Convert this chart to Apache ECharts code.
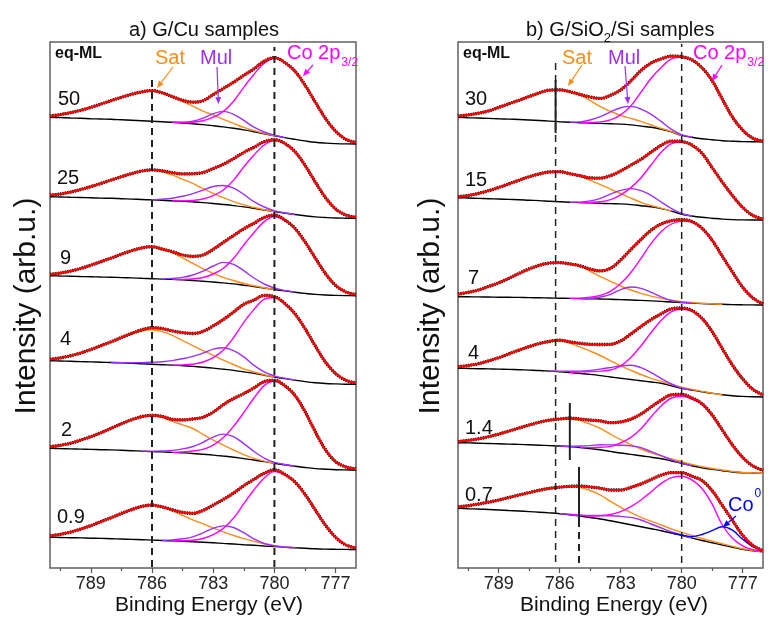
<!DOCTYPE html>
<html>
<head>
<meta charset="utf-8">
<script src="https://cdn.jsdelivr.net/npm/echarts@6/dist/echarts.min.js"></script>
<style>
  html, body { margin: 0; padding: 0; background: #fff; }
  #chart { width: 775px; height: 624px; }
</style>
</head>
<body>
<div id="chart"></div>
<script>
// binding energy grid (eV), 0.5 eV step
const energy = [791, 790.5, 790, 789.5, 789, 788.5, 788, 787.5, 787, 786.5, 786, 785.5, 785, 784.5, 784, 783.5,
  783, 782.5, 782, 781.5, 781, 780.5, 780, 779.5, 779, 778.5, 778, 777.5, 777, 776.5, 776];
const majorTicks = [777, 780, 783, 786, 789];
const minorTicks = [778.5, 781.5, 784.5, 787.5, 790.5];

// ---- a) G/Cu : background (above offset) and component heights (above background)
const cuLabels = ['50', '25', '9', '4', '2', '0.9'];
const cuOffsets = [424, 349.7, 272.3, 183.7, 98, 18.5];

const bgCu50 = [26.7, 26.4, 26.0, 25.7, 25.3, 25.0, 24.7, 24.2, 23.7, 23.2, 22.7, 22.2, 21.7, 21.0, 20.3, 19.4, 18.3, 17.1, 15.7, 14.1, 12.3, 10.3, 8.3, 6.4, 4.7, 3.1, 1.7, 0.9, 0.4, 0.1, 0];
const satCu50 = [1.3, 3, 5.3, 8, 11.3, 15, 18.7, 22.5, 26, 29, 30.7, 29, 25.7, 21.5, 17.5, 13.5, 10.7, 7.5, 5, 2.5, 1, 0.3, 0, 0, 0, 0, 0, 0, 0, 0, 0];
const mulCu50 = [0, 0, 0, 0, 0, 0, 0, 0, 0, 0, 0, 0, 0, 0.7, 2.5, 6.5, 12, 15.5, 14, 9.5, 4.5, 1.7, 0.5, 0, 0, 0, 0, 0, 0, 0, 0];
const coCu50 = [0, 0, 0, 0, 0, 0, 0, 0, 0, 0, 0, 0, 0, 0.5, 1.5, 3.9, 8.5, 15.5, 27.1, 42.6, 57.4, 70.5, 77.5, 75.2, 68.2, 55.8, 40.3, 24.8, 12.4, 4.7, 1.5];

const bgCu25 = [21.6, 21.3, 21.0, 20.8, 20.5, 20.2, 20.0, 19.6, 19.2, 18.8, 18.4, 18.0, 17.6, 17.0, 16.4, 15.7, 14.8, 13.8, 12.7, 11.4, 9.9, 8.3, 6.7, 5.2, 3.8, 2.5, 1.4, 0.8, 0.3, 0.1, 0];
const satCu25 = [1.5, 3, 5.2, 8, 11.2, 14.7, 18.3, 22, 25.5, 28.5, 30, 28.5, 25.5, 22, 18.5, 14, 10.2, 6.8, 4, 2, 1, 0.3, 0, 0, 0, 0, 0, 0, 0, 0, 0];
const mulCu25 = [0, 0, 0, 0, 0, 0, 0, 0, 0, 0, 0, 1, 2.5, 5, 8.3, 12.5, 17, 19, 17.5, 12.5, 6.7, 3, 1, 0.3, 0, 0, 0, 0, 0, 0, 0];
const coCu25 = [0, 0, 0, 0, 0, 0, 0, 0, 0, 0, 0, 0, 0, 0.4, 1.4, 3.6, 7.8, 14.5, 25.5, 40, 53.5, 65, 71, 69.5, 63, 50.5, 35, 20, 9, 3.3, 1];

const bgCu9 = [20, 19.7, 19.5, 19.2, 19.0, 18.7, 18.5, 18.1, 17.8, 17.4, 17.0, 16.6, 16.3, 15.8, 15.2, 14.5, 13.7, 12.8, 11.8, 10.5, 9.2, 7.7, 6.2, 4.8, 3.5, 2.3, 1.3, 0.7, 0.3, 0.1, 0];
const satCu9 = [1.3, 2.9, 5.1, 8, 11.5, 15.4, 19.2, 23.4, 27.2, 30.4, 32, 30, 26.7, 22, 17.2, 12.5, 8.7, 5.5, 3.3, 1.7, 0.7, 0.2, 0, 0, 0, 0, 0, 0, 0, 0, 0];
const mulCu9 = [0, 0, 0, 0, 0, 0, 0, 0, 0, 0, 0, 0, 1, 2.5, 5.5, 10, 16, 20.5, 19.5, 14.5, 8.5, 4, 1.5, 0.5, 0, 0, 0, 0, 0, 0, 0];
const coCu9 = [0, 0, 0, 0, 0, 0, 0, 0, 0, 0, 0, 0, 0, 0.4, 1.5, 3.7, 8, 14.6, 25.6, 40.2, 54, 66.4, 73, 70.5, 64, 51.5, 36.5, 21.5, 10, 3.7, 1.2];

const bgCu4 = [23.6, 23.3, 23.0, 22.7, 22.4, 22.1, 21.8, 21.4, 21.0, 20.5, 20.1, 19.6, 19.2, 18.6, 17.9, 17.1, 16.2, 15.1, 13.9, 12.4, 10.9, 9.1, 7.3, 5.7, 4.2, 2.7, 1.5, 0.8, 0.4, 0.1, 0];
const satCu4 = [1.4, 3.1, 5.5, 8.6, 12.4, 16.6, 20.7, 25.2, 29.3, 32.8, 34.5, 33.1, 29.7, 25.2, 20.7, 16.6, 12.8, 9, 5.9, 3.1, 1.4, 0.5, 0, 0, 0, 0, 0, 0, 0, 0, 0];
const mulCu4 = [0, 0, 0, 0, 0, 0, 0, 0.3, 0.6, 1.2, 2, 3, 4.5, 7, 10, 14, 19, 21.5, 19.7, 15, 8, 3.3, 1, 0.3, 0, 0, 0, 0, 0, 0, 0];
const coCu4 = [0, 0, 0, 0, 0, 0, 0, 0, 0, 0, 0, 0, 0, 0.8, 2.2, 5.2, 10.4, 19.2, 32.8, 49.6, 64, 76, 79.5, 75, 66.5, 53, 37, 21.5, 10.4, 4, 1.3];

const bgCu2 = [21.7, 21.4, 21.1, 20.9, 20.6, 20.3, 20.1, 19.7, 19.3, 18.9, 18.4, 18.1, 17.6, 17.1, 16.5, 15.7, 14.9, 13.9, 12.8, 11.4, 10.0, 8.4, 6.7, 5.2, 3.8, 2.5, 1.4, 0.8, 0.3, 0.1, 0];
const satCu2 = [1.6, 3.3, 5.6, 9, 12.7, 17, 21.6, 26.5, 31, 34.5, 35.8, 34.5, 31, 28, 25, 20, 15, 11, 7.2, 4, 1.7, 0.5, 0, 0, 0, 0, 0, 0, 0, 0, 0];
const mulCu2 = [0, 0, 0, 0, 0, 0, 0, 0, 0, 0, 0.5, 1, 2, 4, 7, 12, 18, 22, 20.5, 15, 8.5, 3.5, 1, 0.3, 0, 0, 0, 0, 0, 0, 0];
const coCu2 = [0, 0, 0, 0, 0, 0, 0, 0, 0, 0, 0, 0, 0, 1, 2.5, 5, 10, 18.5, 31, 46, 62, 76, 82, 79, 71, 56, 37, 19.5, 8, 3, 1];

const bgCu09 = [12.2, 12.0, 11.8, 11.6, 11.3, 11.1, 10.8, 10.5, 10.1, 9.8, 9.4, 9.0, 8.6, 8.2, 7.7, 7.2, 6.7, 6.1, 5.5, 4.8, 4.2, 3.5, 2.9, 2.3, 1.7, 1.2, 0.7, 0.4, 0.2, 0.1, 0];
const satCu09 = [1.4, 3.2, 5.6, 8.8, 12.6, 16.8, 21, 25.6, 29.8, 33.3, 35, 33.6, 30.1, 26, 22, 18.5, 15, 11.5, 8.5, 6, 4, 2.2, 1, 0.3, 0, 0, 0, 0, 0, 0, 0];
const mulCu09 = [0, 0, 0, 0, 0, 0, 0, 0, 0, 0, 0, 0, 1, 2.5, 5, 9.5, 14.5, 17.5, 16.5, 12, 6.5, 2.5, 0.8, 0.2, 0, 0, 0, 0, 0, 0, 0];
const coCu09 = [0, 0, 0, 0, 0, 0, 0, 0, 0, 0, 0, 0, 0, 0.5, 1.5, 3.8, 8.2, 15, 26, 41, 55.5, 68, 75, 72.5, 66, 54, 39, 24, 12, 4.5, 1.5];

// ---- b) G/SiO2/Si
const siLabels = ['30', '15', '7', '4', '1.4', '0.7'];
const siOffsets = [426.3, 348, 263, 171, 94.7, 16.3];

const bgSi30 = [24.4, 24.0, 23.7, 23.3, 22.9, 22.6, 22.2, 21.7, 21.2, 20.6, 20.0, 19.5, 19.0, 18.7, 18.3, 17.9, 17.6, 16.8, 15.6, 14.4, 12.4, 9.8, 6.3, 4.4, 2.9, 2.0, 1.0, 0.5, 0.1, 0, 0];
const satSi30 = [1.3, 2.8, 4.8, 7.5, 11.4, 15.3, 19.3, 23.5, 27.6, 31, 31.8, 30.5, 27.5, 22.5, 16.8, 12.5, 8.6, 6.5, 4.7, 2.3, 0.8, 0.3, 0, 0, 0, 0, 0, 0, 0, 0, 0];
const mulSi30 = [0, 0, 0, 0, 0, 0, 0, 0, 0, 0, 0, 0, 0.8, 3, 6.7, 12, 16.3, 18.5, 17, 13, 7.7, 2.5, 0.7, 0, 0, 0, 0, 0, 0, 0, 0];
const coSi30 = [0, 0, 0, 0, 0, 0, 0, 0, 0, 0, 0, 0, 0, 0.5, 1.5, 4, 9.3, 19, 34, 49, 62, 73, 78, 77.5, 71, 59, 41.5, 24, 11.5, 3.5, 0.5];

const bgSi15 = [22.3, 22.0, 21.6, 21.3, 21.0, 20.6, 20.3, 19.8, 19.4, 18.8, 18.3, 17.8, 17.4, 17.1, 16.7, 16.4, 16.1, 15.4, 14.3, 13.2, 11.4, 8.9, 5.8, 4.0, 2.7, 1.8, 0.9, 0.4, 0.1, 0, 0];
const satSi15 = [1, 2.5, 5, 8, 11.5, 15.5, 19.5, 23.5, 26.7, 29.3, 30, 28.5, 26.4, 22.5, 18.7, 14.5, 10.4, 6.5, 3.4, 1.3, 0.4, 0, 0, 0, 0, 0, 0, 0, 0, 0, 0];
const mulSi15 = [0, 0, 0, 0, 0, 0, 0, 0, 0, 0, 0, 0, 0.5, 2, 5, 9.5, 13.5, 16, 15, 11.5, 6.5, 2.5, 0.7, 0, 0, 0, 0, 0, 0, 0, 0];
const coSi15 = [0, 0, 0, 0, 0, 0, 0, 0, 0, 0, 0, 0, 0, 0.5, 1.5, 4, 9, 17, 28, 42, 56.5, 67.5, 72, 71, 64, 50.5, 37, 24, 12.5, 4.5, 1];

const bgSi7 = [8.3, 8.2, 8.1, 8.0, 7.8, 7.7, 7.6, 7.4, 7.2, 7.0, 6.8, 6.6, 6.4, 6.2, 6.0, 5.7, 5.4, 5.0, 4.6, 4.1, 3.6, 3.0, 2.4, 1.9, 1.4, 1.0, 0.7, 0.4, 0.2, 0.1, 0];
const satSi7 = [2.5, 4.5, 6.9, 10.5, 14.4, 19, 24, 28.7, 32.5, 35, 35.5, 34.5, 32.3, 27.5, 22.4, 18, 13.6, 10, 7, 4.8, 3, 1.8, 1, 0.6, 0.3, 0.1, 0, 0, 0, 0, 0];
const mulSi7 = [0, 0, 0, 0, 0, 0, 0, 0, 0, 0, 0, 0, 0, 0.5, 2, 5, 10, 13, 12, 8.5, 4.5, 1.5, 0.5, 0, 0, 0, 0, 0, 0, 0, 0];
const coSi7 = [0, 0, 0, 0, 0, 0, 0, 0, 0, 0, 0, 0, 0.5, 1.7, 3.7, 8, 16, 27.5, 42, 57.5, 70, 78, 81.5, 81, 75, 63.5, 48, 32.5, 17.5, 7, 1];

const bgSi4 = [28.7, 28.5, 28.3, 28.1, 27.9, 27.6, 27.3, 26.9, 26.5, 25.9, 25.3, 24.5, 23.6, 22.6, 21.4, 20.0, 18.7, 17.5, 16.3, 15.0, 13.7, 11.3, 8.7, 7.0, 5.3, 3.7, 2.3, 1.3, 0.6, 0.2, 0];
const satSi4 = [1.6, 3, 5, 8, 11.4, 15.5, 19.6, 23.5, 27, 29.8, 31, 29.5, 26.3, 23.3, 20.1, 16.2, 12.4, 9.2, 6.2, 3.7, 1.9, 1.2, 1, 0.6, 0.3, 0.1, 0, 0, 0, 0, 0];
const mulSi4 = [0, 0, 0, 0, 0, 0, 0, 0, 0, 0, 0.5, 1.2, 2.3, 4, 6.5, 9.5, 12.5, 14.3, 13, 9.3, 4.7, 1.7, 0.3, 0, 0, 0, 0, 0, 0, 0, 0];
const coSi4 = [0, 0, 0, 0, 0, 0, 0, 0, 0, 0, 0, 0, 1.5, 2.8, 4.5, 7, 12.5, 22, 35, 49.5, 63, 74, 79, 79, 73, 61.5, 46, 30.5, 17.5, 7.5, 2];

const bgSi14 = [30.6, 30.4, 30.1, 29.8, 29.5, 29.2, 28.9, 28.5, 28.1, 27.7, 27.3, 26.6, 25.8, 24.7, 23.6, 21.9, 20.3, 18.9, 17.6, 16.1, 14.6, 12.3, 10.0, 7.6, 5.6, 4.0, 2.6, 1.3, 0.6, 0.3, 0];
const satSi14 = [1, 2.5, 4.3, 6.8, 9.7, 13, 16.4, 19.8, 23, 25.5, 27, 28, 27, 24.5, 21.3, 17.2, 13.3, 9.8, 6.7, 4.3, 2.7, 2, 1.6, 1.3, 1, 0.8, 0.7, 0.5, 0.3, 0.1, 0];
const mulSi14 = [0, 0, 0, 0, 0, 0, 0, 0, 0, 0, 0, 0.5, 1.5, 3, 5, 6.5, 7.8, 8.5, 8, 5.5, 3, 1.2, 0.3, 0, 0, 0, 0, 0, 0, 0, 0];
const coSi14 = [0, 0, 0, 0, 0, 0, 0, 0, 0, 0, 0, 0, 0, 1, 2.5, 5, 10, 17, 27, 40.5, 53, 63, 67, 66.5, 63, 53.5, 40, 26.5, 15, 7, 3];

const bgSi07 = [43.4, 43.0, 42.7, 42.2, 41.7, 41.2, 40.7, 40.1, 39.5, 38.8, 38.0, 36.9, 35.7, 34.2, 32.7, 30.9, 29.0, 27.0, 25.0, 23.0, 21.0, 18.7, 16.4, 13.8, 11.2, 9.0, 6.7, 4.5, 2.4, 1.0, 0];
const satSi07 = [1.5, 3, 5, 7.3, 10, 13, 16, 19, 22, 24.5, 26.5, 28, 28.5, 27, 24, 19.5, 15.4, 12, 9.4, 7.5, 5.7, 4, 3, 2.4, 2, 1.5, 1.2, 0.8, 0.5, 0.2, 0];
const mulSi07 = [0, 0, 0, 0, 0, 0, 0, 0, 0, 0, 0, 0.5, 1, 2, 3.5, 5, 6.3, 7.3, 6.7, 4.7, 2.7, 1, 0.3, 0, 0, 0, 0, 0, 0, 0, 0];
const coSi07 = [0, 0, 0, 0, 0, 0, 0, 0, 0, 0, 0, 0, 0.5, 1.5, 3.3, 6.3, 11, 18, 26.7, 37, 47.3, 55.3, 59, 58, 52, 38.5, 20, 9, 3.5, 1, 0];
const co0Si07 = [0, 0, 0, 0, 0, 0, 0, 0, 0, 0, 0, 0, 0, 0, 0, 0, 0, 0, 0, 0, 0, 0, 0.3, 1.3, 6, 12, 18.3, 17, 10, 4, 1];

// reference lines: [energy, from, to] in intensity units
const cuDashed = [[786, 1, 491], [780, 1, 521]];
const siDashed = [[786.2, 6, 505], [780, 5, 524], [785.05, 5, 48]];
const siMarkers = [[786.2, 435, 488], [785.5, 108, 165], [785.05, 48, 101]];

const cuSpectra = [
  { bg: bgCu50, sat: satCu50, mul: mulCu50, co: coCu50 },
  { bg: bgCu25, sat: satCu25, mul: mulCu25, co: coCu25 },
  { bg: bgCu9, sat: satCu9, mul: mulCu9, co: coCu9 },
  { bg: bgCu4, sat: satCu4, mul: mulCu4, co: coCu4 },
  { bg: bgCu2, sat: satCu2, mul: mulCu2, co: coCu2 },
  { bg: bgCu09, sat: satCu09, mul: mulCu09, co: coCu09 }
];
const siSpectra = [
  { bg: bgSi30, sat: satSi30, mul: mulSi30, co: coSi30 },
  { bg: bgSi15, sat: satSi15, mul: mulSi15, co: coSi15 },
  { bg: bgSi7, sat: satSi7, mul: mulSi7, co: coSi7 },
  { bg: bgSi4, sat: satSi4, mul: mulSi4, co: coSi4 },
  { bg: bgSi14, sat: satSi14, mul: mulSi14, co: coSi14 },
  { bg: bgSi07, sat: satSi07, mul: mulSi07, co: coSi07, co0: co0Si07 }
];

const FONT = '"Liberation Sans", Arial, sans-serif';
const C_SAT = '#ff8c1a', C_MUL = '#9b30ff', C_CO = '#ff00ff', C_CO0 = '#0000ff';

const chart = echarts.init(document.getElementById('chart'), null, { renderer: 'canvas' });

function line(gi, data, color, width, extra) {
  return Object.assign({
    type: 'line', xAxisIndex: gi * 2, yAxisIndex: gi, data: data,
    showSymbol: false, smooth: 0.35, silent: true, animation: false,
    lineStyle: { color: color, width: width }
  }, extra || {});
}

function compPoints(off, bg, comp) {
  const pts = [];
  energy.forEach((e, i) => {
    if (comp[i] > 0 || comp[i - 1] > 0 || comp[i + 1] > 0) pts.push([e, off + bg[i] + comp[i]]);
  });
  return pts;
}

function spectrumSeries(gi, s, off) {
  const out = [];
  out.push(line(gi, energy.map((e, i) => [e, off + s.bg[i]]), '#000', 1.4));
  out.push(line(gi, compPoints(off, s.bg, s.sat), C_SAT, 1.4));
  out.push(line(gi, compPoints(off, s.bg, s.mul), C_MUL, 1.4));
  out.push(line(gi, compPoints(off, s.bg, s.co), C_CO, 1.4));
  if (s.co0) out.push(line(gi, compPoints(off, s.bg, s.co0), C_CO0, 1.4));
  const fit = energy.map((e, i) => [e, off + s.bg[i] + s.sat[i] + s.mul[i] + s.co[i] + (s.co0 ? s.co0[i] : 0)]);
  out.push(line(gi, fit, '#000', 3.3, { lineStyle: { color: '#000', width: 3.3, type: [1.5, 1] } }));
  out.push(line(gi, fit, '#ff0000', 2.2));
  return out;
}

let series = [];
cuSpectra.forEach((s, k) => { series = series.concat(spectrumSeries(0, s, cuOffsets[k])); });
siSpectra.forEach((s, k) => { series = series.concat(spectrumSeries(1, s, siOffsets[k])); });

function vline(gi, g, dashed, width) {
  return {
    type: 'line', xAxisIndex: gi * 2, yAxisIndex: gi, data: [[g[0], g[1]], [g[0], g[2]]],
    showSymbol: false, silent: true, animation: false, z: 5,
    lineStyle: { color: '#222', width: width, type: dashed ? [7, 5] : 'solid' }
  };
}
cuDashed.forEach(g => series.push(vline(0, g, true, 2)));
siDashed.forEach((g, k) => series.push(vline(1, g, true, k === 2 ? 2 : 1.5)));
siMarkers.forEach(g => series.push(vline(1, g, false, 2)));

function xAxes(gi) {
  return [{
    gridIndex: gi, type: 'value', min: 776, max: 791, inverse: true, position: 'bottom',
    axisLine: { show: false }, splitLine: { show: false },
    axisTick: { show: true, customValues: majorTicks, length: 5, lineStyle: { color: '#555', width: 1.2 } },
    axisLabel: { customValues: majorTicks, fontSize: 18, color: '#222', margin: 7, fontFamily: FONT }
  }, {
    gridIndex: gi, type: 'value', min: 776, max: 791, inverse: true, position: 'bottom', offset: 0,
    axisLine: { show: false }, splitLine: { show: false }, axisLabel: { show: false },
    axisTick: { show: true, customValues: minorTicks, length: 3, lineStyle: { color: '#555', width: 1.2 } }
  }];
}

// ---- annotations
const measure = document.createElement('canvas').getContext('2d');
function textW(str, font) { measure.font = font; return measure.measureText(str).width; }

function txt(x, y, str, size, color, opts) {
  return {
    type: 'text', silent: true, z: 10,
    style: { text: str, x: x, y: y, fill: color || '#111', font: (opts && opts.weight ? opts.weight + ' ' : '') + size + 'px ' + FONT,
      align: (opts && opts.align) || 'left', verticalAlign: 'middle' }
  };
}

function arrow(x1, y1, x2, y2, color) {
  const a = Math.atan2(y2 - y1, x2 - x1), L = 7, W = 3;
  const bx = x2 - L * Math.cos(a), by = y2 - L * Math.sin(a);
  return [
    { type: 'line', silent: true, z: 10, shape: { x1: x1, y1: y1, x2: bx, y2: by }, style: { stroke: color, lineWidth: 1.2 } },
    { type: 'polygon', silent: true, z: 10, shape: { points: [[x2, y2], [bx + W * Math.sin(a), by - W * Math.cos(a)], [bx - W * Math.sin(a), by + W * Math.cos(a)]] }, style: { fill: color } }
  ];
}

const graphics = [];
// titles
graphics.push(txt(204, 30, 'a) G/Cu samples', 20, '#111', { align: 'center' }));
(function () {
  const f = '20px ' + FONT, fs = '13px ' + FONT;
  let x = 526;
  graphics.push(txt(x, 30, 'b) G/SiO', 20, '#111'));
  x += textW('b) G/SiO', f);
  graphics.push(txt(x, 38, '2', 13, '#111'));
  x += textW('2', fs);
  graphics.push(txt(x, 30, '/Si samples', 20, '#111'));
})();
// axis names
graphics.push({ type: 'text', silent: true, x: 27, y: 306, rotation: Math.PI / 2,
  style: { text: 'Intensity (arb.u.)', font: '30px ' + FONT, fill: '#111', align: 'center', verticalAlign: 'middle' } });
graphics.push({ type: 'text', silent: true, x: 431, y: 306, rotation: Math.PI / 2,
  style: { text: 'Intensity (arb.u.)', font: '30px ' + FONT, fill: '#111', align: 'center', verticalAlign: 'middle' } });
graphics.push(txt(209, 605, 'Binding Energy (eV)', 21, '#111', { align: 'center' }));
graphics.push(txt(614, 605, 'Binding Energy (eV)', 21, '#111', { align: 'center' }));

// panel annotations
function panelNotes(dx, satX, mulX, coX, satArrow, mulArrow, coArrow) {
  graphics.push(txt(55 + dx, 54, 'eq-ML', 16, '#111', { weight: 'bold' }));
  graphics.push(txt(satX, 58, 'Sat', 20, C_SAT));
  graphics.push(txt(mulX, 58, 'Mul', 20, C_MUL));
  graphics.push(txt(coX, 53, 'Co 2p', 20, C_CO));
  graphics.push(txt(coX + textW('Co 2p', '20px ' + FONT) + 1, 63, '3/2', 12, C_CO));
  arrow.apply(null, satArrow.concat(C_SAT)).forEach(g => graphics.push(g));
  arrow.apply(null, mulArrow.concat(C_MUL)).forEach(g => graphics.push(g));
  arrow.apply(null, coArrow.concat(C_CO)).forEach(g => graphics.push(g));
}
panelNotes(0, 155, 200, 287, [173, 67, 157, 88], [217, 67, 218.5, 104], [313, 65, 303, 76]);
panelNotes(408, 562, 608, 693, [582, 65, 568, 86], [625, 66, 628, 104], [722, 65, 712, 81]);

const cuLabelPos = [[58, 99], [57, 178], [60, 258], [60, 339], [61, 430], [57, 517]];
const siLabelPos = [[465, 99], [465, 180], [468, 278], [468, 353], [465, 428], [465, 495]];
cuLabels.forEach((l, k) => graphics.push(txt(cuLabelPos[k][0], cuLabelPos[k][1], l, 20, '#111')));
siLabels.forEach((l, k) => graphics.push(txt(siLabelPos[k][0], siLabelPos[k][1], l, 20, '#111')));

graphics.push(txt(728, 505, 'Co', 20, C_CO0));
graphics.push(txt(728 + textW('Co', '20px ' + FONT) + 1, 494, '0', 12, C_CO0));
arrow(736, 516, 723, 527, C_CO0).forEach(g => graphics.push(g));

chart.setOption({
  backgroundColor: '#fff',
  animation: false,
  grid: [
    { left: 50, top: 42, width: 306, height: 526, show: true, borderColor: '#606060', borderWidth: 1.5, containLabel: false },
    { left: 458, top: 42, width: 305, height: 526, show: true, borderColor: '#606060', borderWidth: 1.5, containLabel: false }
  ],
  xAxis: xAxes(0).concat(xAxes(1)),
  yAxis: [
    { gridIndex: 0, type: 'value', min: 0, max: 526, show: false },
    { gridIndex: 1, type: 'value', min: 0, max: 526, show: false }
  ],
  series: series,
  graphic: graphics
});
</script>
</body>
</html>
